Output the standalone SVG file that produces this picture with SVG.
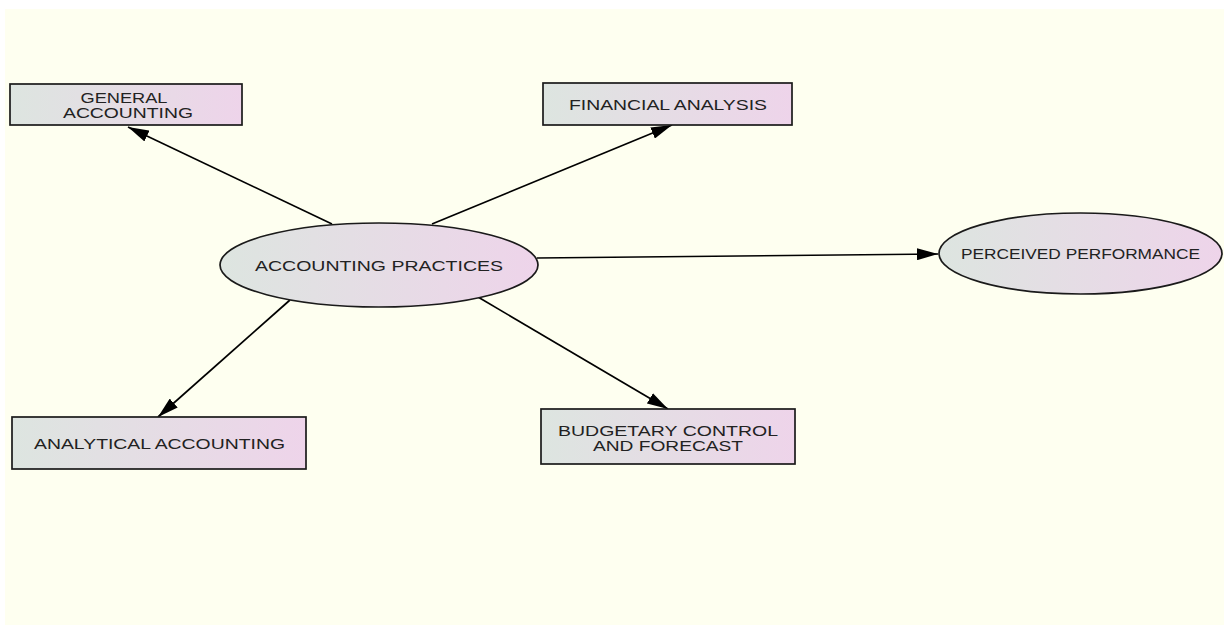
<svg xmlns="http://www.w3.org/2000/svg" width="1224" height="625" viewBox="0 0 1224 625">
<defs>
<linearGradient id="g" x1="0" y1="0" x2="1" y2="0">
<stop offset="0" stop-color="#dde5e0"/>
<stop offset="1" stop-color="#eed4ea"/>
</linearGradient>
<marker id="ah" markerUnits="userSpaceOnUse" markerWidth="22" markerHeight="12" refX="21" refY="6" orient="auto" viewBox="0 0 22 12">
<path d="M0,0 L21,6 L0,12 Z" fill="#000"/>
</marker>
<style>
.n{fill:url(#g);stroke:#1a1a1a;stroke-width:1.7}
.t{font-family:"Liberation Sans",Arial,sans-serif;font-size:15.5px;fill:#222;text-anchor:middle}
.e{stroke:#000;stroke-width:1.7;fill:none;marker-end:url(#ah)}
</style>
</defs>
<rect x="0" y="0" width="1224" height="625" fill="#ffffff"/>
<rect x="5" y="9" width="1219" height="616" fill="#fefff0"/>
<g id="connectors">
<line class="e" x1="332" y1="224" x2="128" y2="127"/>
<line class="e" x1="432" y1="224" x2="672" y2="125"/>
<line class="e" x1="537" y1="258" x2="938" y2="254"/>
<line class="e" x1="290" y1="300" x2="158" y2="417"/>
<line class="e" x1="478" y1="297" x2="668" y2="409"/>
</g>
<g id="general-accounting">
<rect class="n" x="10" y="84" width="232" height="41"/>
<text class="t" x="124" y="102.5" textLength="87" lengthAdjust="spacingAndGlyphs">GENERAL</text>
<text class="t" x="128" y="118" textLength="130" lengthAdjust="spacingAndGlyphs">ACCOUNTING</text>
</g>
<g id="financial-analysis">
<rect class="n" x="543" y="83" width="249" height="42"/>
<text class="t" x="668" y="109.5" textLength="198" lengthAdjust="spacingAndGlyphs">FINANCIAL ANALYSIS</text>
</g>
<g id="accounting-practices">
<ellipse class="n" cx="379" cy="265" rx="159" ry="42"/>
<text class="t" x="379" y="270.5" textLength="248" lengthAdjust="spacingAndGlyphs">ACCOUNTING PRACTICES</text>
</g>
<g id="perceived-performance">
<ellipse class="n" cx="1080.5" cy="253.5" rx="141.5" ry="40.5"/>
<text class="t" x="1080.5" y="259" textLength="239" lengthAdjust="spacingAndGlyphs">PERCEIVED PERFORMANCE</text>
</g>
<g id="analytical-accounting">
<rect class="n" x="12" y="417" width="294" height="52"/>
<text class="t" x="159.5" y="448.5" textLength="251" lengthAdjust="spacingAndGlyphs">ANALYTICAL ACCOUNTING</text>
</g>
<g id="budgetary-control">
<rect class="n" x="541" y="409" width="254" height="55"/>
<text class="t" x="668" y="435.5" textLength="220" lengthAdjust="spacingAndGlyphs">BUDGETARY CONTROL</text>
<text class="t" x="668" y="451" textLength="150" lengthAdjust="spacingAndGlyphs">AND FORECAST</text>
</g>
</svg>
